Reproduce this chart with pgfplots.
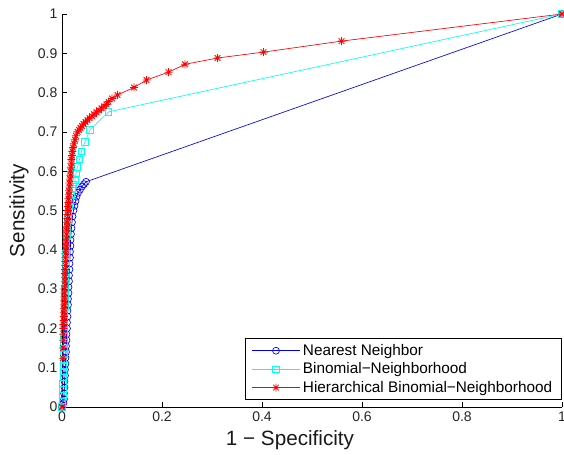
\documentclass[border=0pt]{standalone}
\usepackage{pgfplots}
\pgfplotsset{compat=1.18}
\usepackage{fontspec}
\setmainfont{Liberation Sans}
\usetikzlibrary{calc}
\definecolor{mblue}{rgb}{0,0,1}
\definecolor{mcyan}{rgb}{0,1,1}
\definecolor{mred}{rgb}{1,0,0}
\pgfdeclareplotmark{mstar}{%
  \pgfpathmoveto{\pgfqpoint{-\pgfplotmarksize}{0pt}}\pgfpathlineto{\pgfqpoint{\pgfplotmarksize}{0pt}}%
  \pgfpathmoveto{\pgfqpoint{0pt}{-\pgfplotmarksize}}\pgfpathlineto{\pgfqpoint{0pt}{\pgfplotmarksize}}%
  \pgfpathmoveto{\pgfqpoint{-0.707\pgfplotmarksize}{-0.707\pgfplotmarksize}}\pgfpathlineto{\pgfqpoint{0.707\pgfplotmarksize}{0.707\pgfplotmarksize}}%
  \pgfpathmoveto{\pgfqpoint{-0.707\pgfplotmarksize}{0.707\pgfplotmarksize}}\pgfpathlineto{\pgfqpoint{0.707\pgfplotmarksize}{-0.707\pgfplotmarksize}}%
  \pgfusepathqstroke}
\begin{document}
\begin{tikzpicture}
\begin{axis}[
  name=ax,
  scale only axis,
  width=375pt, height=294.75pt,
  xmin=0, xmax=1, ymin=0, ymax=1,
  axis lines=left,
  axis line style={-, black},
  tick align=inside,
  tick style={black, line width=0.5pt},
  major tick length=4pt,
  xtick={0,0.2,0.4,0.6,0.8,1},
  ytick={0,0.1,0.2,0.3,0.4,0.5,0.6,0.7,0.8,0.9,1},
  /pgf/number format/assume math mode=true,
  tick label style={font=\fontsize{10.5}{12}\selectfont, text=black!85},
  xlabel={1 − Specificity},
  ylabel={Sensitivity},
  xlabel style={font=\fontsize{15.5}{18}\selectfont, text=black!90, xshift=-16.5pt},
  ylabel style={font=\fontsize{15.5}{18}\selectfont, text=black!90},
  legend style={at={(rel axis cs:1,0.018)}, anchor=south east,
    draw=black, line width=0.6pt, fill=white,
    font=\fontsize{11.5}{13}\selectfont,
    row sep=0pt, inner xsep=5pt, inner ysep=2pt},
  legend cell align=left,
  legend image code/.code={\draw[mark repeat=2,mark phase=2] plot coordinates {(0pt,0pt)(18pt,0pt)(36pt,0pt)};},
]
\addplot[mblue, line width=0.5pt, mark=o, mark size=2.6pt, mark options={line width=0.5pt}] coordinates {
(0,0) (0.003,0.01) (0.004,0.02) (0.004,0.035) (0.005,0.05) (0.005,0.065) (0.006,0.08) (0.006,0.095)
(0.007,0.11) (0.007,0.125) (0.008,0.14) (0.008,0.155) (0.009,0.17) (0.009,0.185) (0.010,0.2) (0.010,0.215)
(0.011,0.23) (0.011,0.245) (0.012,0.26) (0.012,0.275) (0.013,0.29) (0.013,0.305) (0.014,0.32) (0.014,0.335)
(0.015,0.35) (0.015,0.365) (0.016,0.38) (0.016,0.395) (0.017,0.41) (0.017,0.425) (0.018,0.44) (0.019,0.455)
(0.020,0.47) (0.021,0.485) (0.023,0.5) (0.025,0.512) (0.027,0.524) (0.029,0.535) (0.032,0.545) (0.036,0.553)
(0.040,0.561) (0.044,0.567) (0.048,0.573) (1,1)
};
\addlegendentry{Nearest Neighbor}
\addplot[mcyan, line width=0.5pt, mark=square, mark size=2.4pt, mark options={line width=0.5pt}] coordinates {
(0,0) (0.001,0.015) (0.002,0.03) (0.002,0.045) (0.002,0.06) (0.003,0.075) (0.003,0.09) (0.003,0.105)
(0.003,0.12) (0.004,0.135) (0.004,0.15) (0.004,0.165) (0.004,0.18) (0.005,0.195) (0.005,0.21) (0.005,0.225)
(0.005,0.24) (0.006,0.255) (0.006,0.27) (0.006,0.285) (0.006,0.3) (0.007,0.315) (0.007,0.33) (0.007,0.345)
(0.008,0.36) (0.008,0.375) (0.008,0.39) (0.009,0.405) (0.009,0.42) (0.010,0.435) (0.010,0.45) (0.011,0.465)
(0.012,0.48) (0.013,0.495) (0.014,0.51) (0.016,0.525) (0.018,0.54) (0.020,0.555) (0.023,0.567) (0.026,0.577)
(0.028,0.595) (0.031,0.611) (0.035,0.63) (0.039,0.65) (0.046,0.675) (0.056,0.705) (0.093,0.751) (1,1)
};
\addlegendentry{Binomial−Neighborhood}
\addplot[mred, line width=0.5pt, mark=mstar, mark size=3pt, mark options={line width=0.6pt}] coordinates {
(0,0) (0.002,0.124) (0.002,0.15) (0.003,0.17) (0.003,0.185) (0.003,0.2) (0.003,0.21) (0.004,0.22)
(0.004,0.23) (0.004,0.24) (0.004,0.25) (0.005,0.26) (0.005,0.27) (0.005,0.28) (0.005,0.29) (0.005,0.30)
(0.006,0.31) (0.006,0.32) (0.006,0.33) (0.006,0.34) (0.006,0.35) (0.007,0.36) (0.007,0.37) (0.007,0.38)
(0.007,0.39) (0.008,0.40) (0.008,0.41) (0.008,0.42) (0.009,0.43) (0.009,0.44) (0.009,0.45) (0.010,0.46)
(0.010,0.47) (0.011,0.48) (0.011,0.49) (0.012,0.50) (0.012,0.51) (0.013,0.52) (0.013,0.53) (0.014,0.54)
(0.014,0.55) (0.015,0.56) (0.015,0.57) (0.016,0.58) (0.017,0.59) (0.017,0.60) (0.018,0.61) (0.019,0.62)
(0.019,0.63) (0.020,0.64) (0.021,0.65) (0.022,0.66) (0.024,0.67) (0.026,0.68) (0.028,0.69) (0.031,0.70)
(0.034,0.705) (0.037,0.71) (0.040,0.715) (0.043,0.72) (0.047,0.725) (0.051,0.73) (0.055,0.735) (0.060,0.74)
(0.064,0.745) (0.069,0.75) (0.074,0.755) (0.079,0.76) (0.084,0.765) (0.089,0.77) (0.093,0.777) (0.100,0.785)
(0.111,0.794) (0.144,0.813) (0.169,0.832) (0.213,0.852) (0.246,0.872) (0.311,0.888) (0.403,0.903) (0.559,0.931)
(1,1)
};
\addlegendentry{Hierarchical Binomial−Neighborhood}
\end{axis}
\pgfresetboundingbox
\path ($(ax.south west)+(-46.5pt,-36pt)$) rectangle ($(ax.north east)+(1.5pt,10.5pt)$);
\end{tikzpicture}
\end{document}
